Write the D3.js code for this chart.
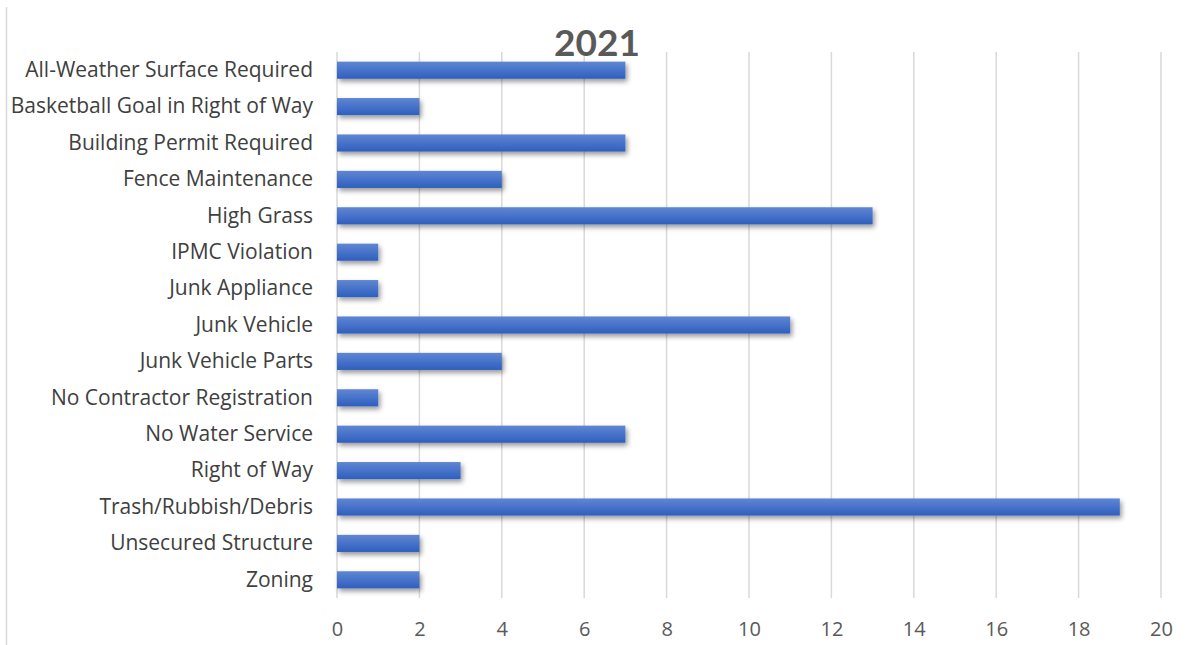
<!DOCTYPE html>
<html lang='en'>
<script src="https://d3js.org/d3.v7.min.js"></script>
<style>
body { margin: 0; background: #fff; }
</style>
<body>
<section id="container"></section>
<script>

var categories = ["All-Weather Surface Required", "Basketball Goal in Right of Way", "Building Permit Required",
  "Fence Maintenance", "High Grass", "IPMC Violation", "Junk Appliance", "Junk Vehicle", "Junk Vehicle Parts",
  "No Contractor Registration", "No Water Service", "Right of Way", "Trash/Rubbish/Debris",
  "Unsecured Structure", "Zoning"];
var counts = [7, 2, 7, 4, 13, 1, 1, 11, 4, 1, 7, 3, 19, 2, 2];
var xTicks = [0, 2, 4, 6, 8, 10, 12, 14, 16, 18, 20];
var title = "2021";

var width = 1185, height = 645;
var plotLeft = 337, plotRight = 1161, plotTop = 52, plotBottom = 598;
var font = "'Open Sans', Lato, sans-serif";

var svg = d3.select("#container")
  .append("svg")
    .attr("width", width)
    .attr("height", height);

// gradient + shadow for the bars
var defs = svg.append("defs");
var grad = defs.append("linearGradient")
    .attr("id", "barGrad")
    .attr("x1", 0).attr("y1", 0).attr("x2", 0).attr("y2", 1);
grad.append("stop").attr("offset", "0%").attr("stop-color", "#5f86d3");
grad.append("stop").attr("offset", "100%").attr("stop-color", "#2e5fbf");

var shadow = defs.append("filter")
    .attr("id", "barShadow")
    .attr("x", "-10%").attr("y", "-40%").attr("width", "130%").attr("height", "220%");
shadow.append("feDropShadow")
    .attr("dx", 2).attr("dy", 3).attr("stdDeviation", 2.6)
    .attr("flood-color", "#000").attr("flood-opacity", 0.4);

// frame line on the left
svg.append("line")
    .attr("x1", 6.5).attr("x2", 6.5)
    .attr("y1", 7).attr("y2", 645)
    .style("stroke", "#d9d9d9")
    .style("stroke-width", 1.5);

var x = d3.scaleLinear().domain([0, 20]).range([plotLeft, plotRight]);
var y = d3.scaleBand().domain(categories).range([plotTop, plotBottom]).paddingInner(0.53).paddingOuter(0.265);

// gridlines
svg.append("g")
  .selectAll("line")
  .data(xTicks)
  .enter().append("line")
    .attr("x1", function(d) { return x(d); })
    .attr("x2", function(d) { return x(d); })
    .attr("y1", plotTop)
    .attr("y2", plotBottom)
    .style("stroke", "#d9d9d9")
    .style("stroke-width", 1.5);

// bars
svg.append("g")
  .selectAll("rect")
  .data(counts)
  .enter().append("rect")
    .attr("x", x(0))
    .attr("y", function(d, i) { return y(categories[i]); })
    .attr("width", function(d) { return x(d) - x(0); })
    .attr("height", y.bandwidth())
    .attr("fill", "url(#barGrad)")
    .attr("filter", "url(#barShadow)");

// category labels
var yAxis = svg.append("g")
    .attr("transform", "translate(" + plotLeft + ",0)")
    .call(d3.axisLeft(y).tickSize(0).tickPadding(24));
yAxis.select(".domain").remove();
yAxis.selectAll("text")
    .attr("font-family", font)
    .attr("font-size", "21px")
    .style("fill", "#404040");

// value axis
var xAxis = svg.append("g")
    .attr("transform", "translate(0," + plotBottom + ")")
    .call(d3.axisBottom(x).tickValues(xTicks).tickSize(0).tickPadding(24));
xAxis.select(".domain").remove();
xAxis.selectAll("text")
    .attr("font-family", font)
    .attr("font-size", "20px")
    .style("fill", "#595959");

// title
svg.append("text")
    .attr("x", 597)
    .attr("y", 56)
    .attr("text-anchor", "middle")
    .attr("font-family", "Lato, sans-serif")
    .attr("font-weight", "bold")
    .attr("font-size", "37px")
    .style("fill", "#595959")
    .text(title);

</script>
</body>
</html>
